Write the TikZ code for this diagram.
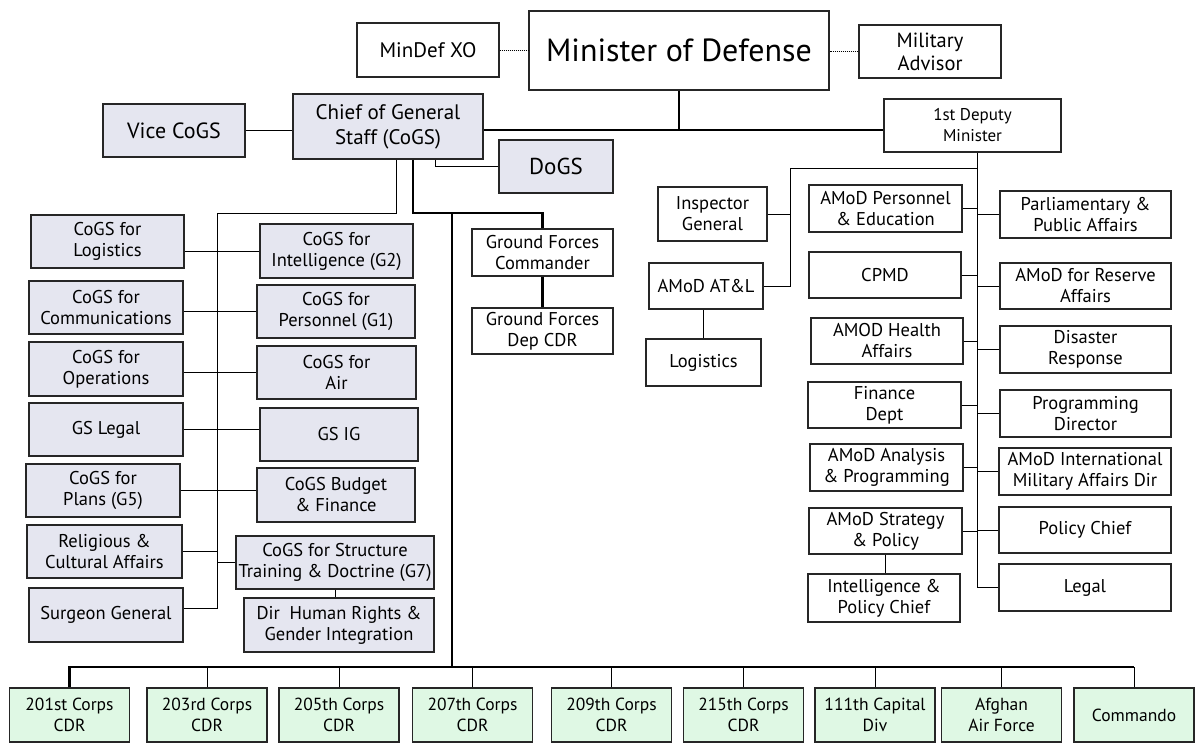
\documentclass[tikz,border=0pt]{standalone}
\usepackage{fontspec}
\setmainfont{PT Sans}
\usetikzlibrary{calc}
\definecolor{staffgrey}{RGB}{229,230,240}
\definecolor{corpsgreen}{RGB}{223,248,228}

\begin{document}
\begin{tikzpicture}[x=1pt, y=-1pt,
    box/.style={draw=black!85, line width=1.2pt, align=center, inner sep=0pt,
        font=\fontsize{18.5}{21}\selectfont},
    wh/.style 2 args={minimum width=#1pt, minimum height=#2pt},
    staff/.style={box, fill=staffgrey},
    corps/.style={box, fill=corpsgreen, wh={120}{54}, font=\fontsize{17.5}{21}\selectfont},
    link/.style={line width=0.9pt},
    heavy/.style={line width=2.6pt}]
    \useasboundingbox (0,0) rectangle (1198,744);

    % Minister and his office
    \node[box, wh={300}{79}, font=\fontsize{32}{35}\selectfont] (mod) at (679,50.5) {Minister of Defense};
    \node[box, wh={142}{54}, font=\fontsize{21}{23}\selectfont] (xo) at (428,50) {MinDef XO};
    \node[box, wh={142}{53}, font=\fontsize{20.5}{23}\selectfont] (madv) at (930,51.5) {Military\\Advisor};
    \node[box, wh={177}{53}, font=\fontsize{17}{21}\selectfont] (dep1) at (972.5,125.5) {1st Deputy\\Minister};

    % General staff
    \node[staff, wh={190}{65}, font=\fontsize{21}{25}\selectfont] (cogs) at (388,126.5) {Chief of General\\Staff (CoGS)};
    \node[staff, wh={142}{53}, font=\fontsize{22}{24}\selectfont] (vice) at (174,130.5) {Vice CoGS};
    \node[staff, wh={114}{53}, font=\fontsize{23}{26}\selectfont] (dogs) at (556,166.5) {DoGS};

    \node[staff, wh={153}{53}] (log) at (107.5,241.5) {CoGS for\\Logistics};
    \node[staff, wh={153}{54}] (g2) at (336.5,251) {CoGS for\\Intelligence (G2)};
    \node[staff, wh={154}{53}] (comm) at (106,307.5) {CoGS for\\Communications};
    \node[staff, wh={158}{53}] (g1) at (336,311.5) {CoGS for\\Personnel (G1)};
    \node[staff, wh={154}{54}] (ops) at (106,369) {CoGS for\\Operations};
    \node[staff, wh={159}{53}] (air) at (336.5,372.5) {CoGS for\\Air};
    \node[staff, wh={154}{53}] (legal) at (106,429.5) {GS Legal};
    \node[staff, wh={158}{53}] (ig) at (339,434.5) {GS IG};
    \node[staff, wh={154}{53}] (g5) at (103,490.5) {CoGS for\\Plans (G5)};
    \node[staff, wh={158}{54}] (budget) at (336,495) {CoGS Budget\\\& Finance};
    \node[staff, wh={155}{53}] (relig) at (104.5,551.5) {Religious \&\\Cultural Affairs};
    \node[staff, wh={198}{53}] (g7) at (335,562.5) {CoGS for Structure\\Training \& Doctrine (G7)};
    \node[staff, wh={154}{54}] (surg) at (106,615) {Surgeon General};
    \node[staff, wh={190}{54}] (hr) at (339,625) {Dir\ \ Human Rights \&\\Gender Integration};

    % Ground forces
    \node[box, wh={141}{47}] (gfc) at (542.5,252.5) {Ground Forces\\Commander};
    \node[box, wh={141}{46}] (gfd) at (542.5,331) {Ground Forces\\Dep CDR};

    % Ministry side
    \node[box, wh={109}{54}] (insp) at (712.5,214) {Inspector\\General};
    \node[box, wh={114}{46}] (atl) at (706,286) {AMoD AT\&L};
    \node[box, wh={115}{47}] (logi) at (703.5,362.5) {Logistics};

    \node[box, wh={153}{47}] (pers) at (885.5,208.5) {AMoD Personnel\\\& Education};
    \node[box, wh={152}{46}] (cpmd) at (885,275) {CPMD};
    \node[box, wh={152}{46}] (health) at (887,341) {AMOD Health\\Affairs};
    \node[box, wh={153}{46}] (fin) at (884.5,405) {Finance\\Dept};
    \node[box, wh={153}{47}] (ana) at (886.5,467.5) {AMoD Analysis\\\& Programming};
    \node[box, wh={153}{46}] (strat) at (885.5,531) {AMoD Strategy\\\& Policy};
    \node[box, wh={152}{48}] (intel) at (884,598) {Intelligence \&\\Policy Chief};

    \node[box, wh={171}{47}] (parl) at (1085.5,214.5) {Parliamentary \&\\Public Affairs};
    \node[box, wh={171}{46}] (res) at (1085.5,286) {AMoD for Reserve\\Affairs};
    \node[box, wh={171}{47}] (dis) at (1085.5,349.5) {Disaster\\Response};
    \node[box, wh={171}{47}] (prog) at (1085.5,413.5) {Programming\\Director};
    \node[box, wh={172}{47}] (intl) at (1085,471.5) {AMoD International\\Military Affairs Dir};
    \node[box, wh={172}{46}] (pol) at (1085,530) {Policy Chief};
    \node[box, wh={172}{47}] (leg) at (1085,587.5) {Legal};

    % Corps row
    \node[corps] (c201) at (69.5,715) {201st Corps\\CDR};
    \node[corps] (c203) at (207,715) {203rd Corps\\CDR};
    \node[corps] (c205) at (339,715) {205th Corps\\CDR};
    \node[corps] (c207) at (472.5,715) {207th Corps\\CDR};
    \node[corps] (c209) at (611.5,715) {209th Corps\\CDR};
    \node[corps] (c215) at (743.5,715) {215th Corps\\CDR};
    \node[corps] (c111) at (875,715) {111th Capital\\Div};
    \node[corps] (caf) at (1001.5,715) {Afghan\\Air Force};
    \node[corps] (cmd) at (1134,715) {Commando};

    % Junction points
    \coordinate (mj) at (679,130);
    \coordinate (sl) at (217,213);
    \coordinate (aj) at (452,213);
    \coordinate (bus) at (452,667);
    \coordinate (ms) at (977,168);
    \coordinate (ml) at (790,168);

    % Top level lines
    \draw[link, dash pattern=on 1pt off 1pt] (xo.east) -- (xo.east -| mod.west);
    \draw[link, dash pattern=on 1pt off 1pt] (madv.west) -- (madv.west -| mod.east);
    \draw[heavy] (mod.south) -- (mj) -- (mj -| cogs.east);
    \draw[link, line width=1.4pt] (mj) -- (mj -| dep1.west);
    \draw[link] (vice.east) -- (vice.east -| cogs.west);
    \draw[link] ([xshift=47pt]cogs.south) |- (dogs.west);

    % General staff lines
    \draw[link] ([xshift=8pt]cogs.south) |- (sl) |- ([yshift=7pt]surg.east);
    \draw[link] (g2.west) -- (g2.west -| log.east);
    \draw[link] (g1.west) -- (g1.west -| comm.east);
    \draw[link] (air.west) -- (air.west -| ops.east);
    \draw[link] (legal.east) -- (legal.east -| ig.west);
    \draw[link] (g5.east) -- (g5.east -| budget.west);
    \draw[link] (relig.east) -- (relig.east -| sl);
    \draw[link] (g7.west) -- (g7.west -| sl);
    \draw[link] (g7.south) -- (g7.south |- hr.north);

    % Army lines
    \draw[heavy] ([xshift=25pt]cogs.south) |- (aj) -| (gfc.north);
    \draw[heavy] (aj) -- (bus);
    \draw[heavy] (gfc) -- (gfd);
    \draw[heavy] (c201.north) |- (cmd.north |- bus);
    \foreach \c in {c203,c205,c207,c209,c215,c111,caf,cmd}
        \draw[link] (\c.north) -- (\c.north |- bus);

    % Ministry lines
    \draw[link] (ms |- dep1.south) -- (ms) -- (ml) |- (atl.east);
    \draw[link] (ms) |- (leg.west);
    \draw[link] (insp.east) -- (insp.east -| ml);
    \draw[link] (logi.north) -- (logi.north |- atl.south);
    \draw[link] (strat.south) -- (strat.south |- intel.north);
    \foreach \n in {pers,cpmd,health,fin,ana,strat}
        \draw[link] (\n.east) -- (\n.east -| ms);
    \foreach \n in {parl,res,dis,prog,intl,pol}
        \draw[link] (\n.west) -- (\n.west -| ms);
\end{tikzpicture}
\end{document}
